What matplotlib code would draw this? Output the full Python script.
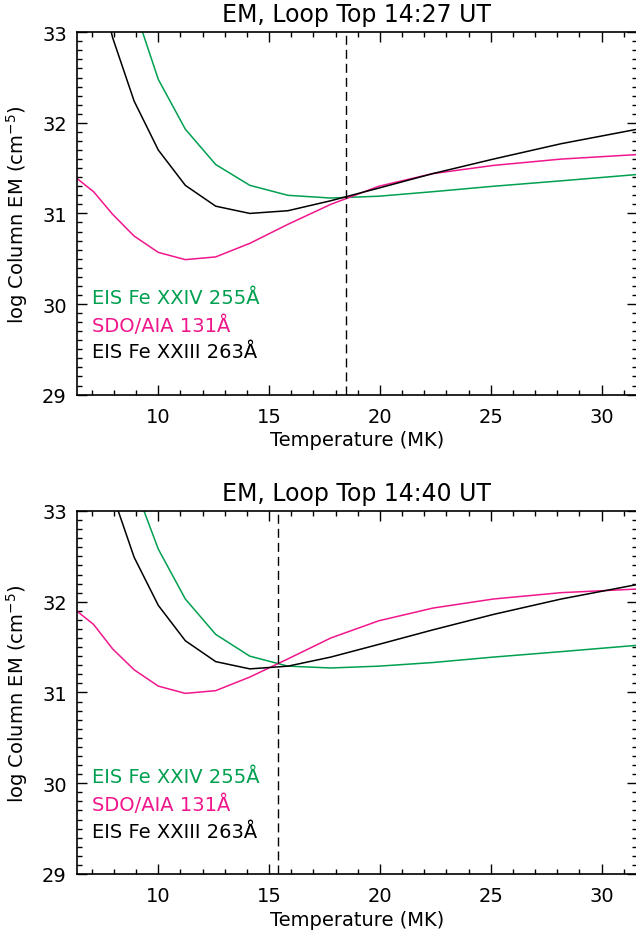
import matplotlib
matplotlib.use('Agg')
import matplotlib.pyplot as plt
from matplotlib.ticker import MultipleLocator

plt.rcParams['font.family'] = ['DejaVu Sans']

# temperature grid (MK), log T = 6.80 ... 7.50 in steps of 0.05
temperature = [6.31, 7.08, 7.94, 8.91, 10.0, 11.22, 12.59, 14.13, 15.85,
               17.78, 19.95, 22.39, 25.12, 28.18, 31.62]

# 14:27 UT
fe24_1427 = [35.3, 34.6, 33.9, 33.28, 32.48, 31.93, 31.54, 31.31, 31.20,
             31.17, 31.19, 31.24, 31.30, 31.36, 31.43]
aia131_1427 = [31.39, 31.24, 30.99, 30.75, 30.57, 30.49, 30.52, 30.67, 30.88,
               31.10, 31.30, 31.44, 31.53, 31.60, 31.65]
fe23_1427 = [34.6, 33.8, 32.94, 32.24, 31.70, 31.31, 31.08, 31.00, 31.03,
             31.14, 31.28, 31.44, 31.60, 31.77, 31.93]
tcross_1427 = 18.48

# 14:40 UT
fe24_1440 = [35.4, 34.7, 34.0, 33.29, 32.58, 32.03, 31.64, 31.40, 31.29,
             31.27, 31.29, 31.33, 31.39, 31.45, 31.52]
aia131_1440 = [31.90, 31.75, 31.48, 31.25, 31.07, 30.99, 31.02, 31.17, 31.37,
               31.60, 31.79, 31.93, 32.03, 32.10, 32.14]
fe23_1440 = [34.6, 33.9, 33.18, 32.49, 31.96, 31.57, 31.34, 31.26, 31.29,
             31.39, 31.53, 31.69, 31.86, 32.03, 32.19]
tcross_1440 = 15.39

titles = ['EM, Loop Top 14:27 UT', 'EM, Loop Top 14:40 UT']
labels = ['EIS Fe XXIV 255Å', 'SDO/AIA 131Å', 'EIS Fe XXIII 263Å']
colors = ['#00a050', '#f0168c', 'black']


def draw_panel(ax, series, tcross, title):
    for y, c in zip(series, colors):
        ax.plot(temperature, y, color=c, lw=1.1)
    ax.axvline(tcross, color='black', lw=1.0, dashes=(6.5, 3.6))
    ax.set_xlim(6.31, 31.62)
    ax.set_ylim(29, 33)
    ax.xaxis.set_major_locator(MultipleLocator(5))
    ax.xaxis.set_minor_locator(MultipleLocator(1))
    ax.yaxis.set_major_locator(MultipleLocator(1))
    ax.yaxis.set_minor_locator(MultipleLocator(0.1))
    ax.tick_params(which='both', direction='in', top=True, right=True,
                   labelsize=14, width=1.0)
    ax.tick_params(which='major', length=7.2)
    ax.tick_params(axis='x', which='major', pad=9)
    ax.tick_params(axis='y', which='major', pad=7)
    ax.tick_params(which='minor', length=3.6)
    for s in ax.spines.values():
        s.set_linewidth(1.2)
    ax.set_title(title, fontsize=17, pad=8)
    ax.set_xlabel('Temperature (MK)', fontsize=14, labelpad=3)
    ax.set_ylabel('log Column EM (cm$^{-5}$)', fontsize=14, labelpad=9)
    for k, (lab, c) in enumerate(zip(labels, colors)):
        ax.text(0.028, 0.268 - 0.075 * k, lab, color=c, fontsize=14,
                transform=ax.transAxes, va='center', ha='left')


fig = plt.figure(figsize=(6.36, 9.37), dpi=100)
ax1 = fig.add_axes([0.1203, 0.5778, 0.882, 0.3867])
ax2 = fig.add_axes([0.1203, 0.0662, 0.882, 0.3874])

draw_panel(ax1, [fe24_1427, aia131_1427, fe23_1427], tcross_1427, titles[0])
draw_panel(ax2, [fe24_1440, aia131_1440, fe23_1440], tcross_1440, titles[1])

fig.savefig('out.png', dpi=100)
